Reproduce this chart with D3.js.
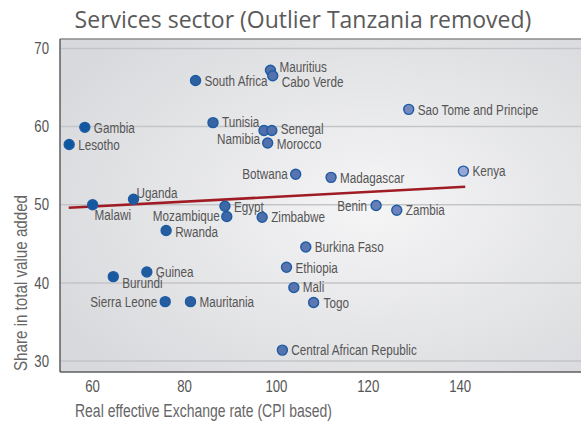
<!DOCTYPE html>
<html lang="en">
<head>
<meta charset="UTF-8" />
<title>Services sector</title>
<script src="https://cdnjs.cloudflare.com/ajax/libs/d3/7.8.5/d3.min.js"></script>
<style>
    body { margin: 0; background: #fff; }
    .title { font-family: 'Open Sans', sans-serif; font-size: 23px; fill: #5a5a5a; }
    .tick-label { font-family: 'Liberation Sans', sans-serif; font-size: 16.5px; fill: #555; }
    .axis-label { font-family: 'Liberation Sans', sans-serif; font-size: 18px; fill: #666; }
    .pt-label { font-family: 'Liberation Sans', sans-serif; font-size: 15px; fill: #555; }
</style>
</head>
<body>
<svg id="chart" width="581" height="427"></svg>
<script>
    // data
    const countries = ["South Africa", "Mauritius", "Cabo Verde", "Gambia", "Lesotho", "Tunisia",
        "Namibia", "Senegal", "Morocco", "Botwana", "Uganda", "Malawi", "Egypt", "Mozambique",
        "Zimbabwe", "Rwanda", "Guinea", "Burundi", "Sierra Leone", "Mauritania",
        "Central African Republic", "Ethiopia", "Mali", "Togo", "Burkina Faso", "Benin",
        "Zambia", "Madagascar", "Kenya", "Sao Tome and Principe"];
    const reer = [82.4, 98.7, 99.2, 58.3, 54.9, 86.2, 97.3, 99.0, 98.1, 104.2, 68.9, 60.0, 88.8, 89.2,
        96.9, 76.0, 71.8, 64.5, 75.8, 81.3, 101.3, 102.2, 103.8, 108.1, 106.4, 121.7,
        126.2, 111.9, 140.7, 128.8];
    const share = [65.9, 67.2, 66.5, 59.9, 57.7, 60.5, 59.5, 59.5, 57.9, 53.9, 50.7, 50.0, 49.8, 48.5,
        48.4, 46.7, 41.4, 40.8, 37.6, 37.6, 31.4, 42.0, 39.4, 37.5, 44.6, 49.9,
        49.3, 53.5, 54.3, 62.2];
    const trendX = [54.8, 141.1];
    const trendY = [49.6, 52.3];
    const xTicks = [60, 80, 100, 120, 140];
    const yTicks = [30, 40, 50, 60, 70];

    // label placement (layout only)
    const labelPos = {
        "Mauritius": { side: "r", dy: -4 },
        "Cabo Verde": { side: "r", dy: 6 },
        "Namibia": { side: "l", dx: 4, dy: 8 },
        "Senegal": { side: "r", dy: -2 },
        "Morocco": { side: "r", dy: 1 },
        "Botwana": { side: "l", dx: 8 },
        "Uganda": { side: "r", dx: 3, dy: -7 },
        "Malawi": { side: "r", dx: 2, dy: 10 },
        "Mozambique": { side: "l", dx: 7, dy: -1 },
        "Rwanda": { side: "r", dy: 1 },
        "Burundi": { side: "r", dx: 9, dy: 6 },
        "Sierra Leone": { side: "l", dx: 8 },
        "Benin": { side: "l", dx: 9 },
        "Tunisia": { side: "r", dy: -1 },
        "Mali": { side: "r", dx: 9, dy: -1 },
        "Togo": { side: "r", dx: 10 }
    };
    const narrow = 0.78; // condensed look of the label face

    const points = countries.map((c, i) => ({ name: c, x: reer[i], y: share[i] }));

    const svg = d3.select("#chart");
    const plotL = 60, plotR = 581, plotT = 39, plotB = 372;

    const x = d3.scaleLinear().domain([52.9, 166.3]).range([plotL, plotR]);
    const y = d3.scaleLinear().domain([28.6, 71.2]).range([plotB, plotT]);

    const defs = svg.append("defs");
    const grad = defs.append("radialGradient")
        .attr("id", "bg")
        .attr("cx", "0.6").attr("cy", "0.5").attr("r", "0.7");
    grad.append("stop").attr("offset", "0%").attr("stop-color", "#f5f5f6");
    grad.append("stop").attr("offset", "100%").attr("stop-color", "#d8d9dc");

    svg.append("rect")
        .attr("x", plotL).attr("y", plotT)
        .attr("width", plotR - plotL).attr("height", plotB - plotT)
        .attr("fill", "url(#bg)");

    // gridlines
    svg.append("g")
        .selectAll("line")
        .data(yTicks)
        .join("line")
        .attr("x1", plotL).attr("x2", plotR)
        .attr("y1", d => y(d)).attr("y2", d => y(d))
        .attr("stroke", "#c4c5c8")
        .attr("stroke-width", 1.5);

    // frame
    svg.append("line")
        .attr("x1", plotL).attr("x2", plotR).attr("y1", plotT).attr("y2", plotT)
        .attr("stroke", "#8a8a8a").attr("stroke-width", 1.5);
    svg.append("line")
        .attr("x1", plotL).attr("x2", plotR).attr("y1", plotB).attr("y2", plotB)
        .attr("stroke", "#5e5e5e").attr("stroke-width", 1.5);
    svg.append("line")
        .attr("x1", plotL).attr("x2", plotL).attr("y1", plotT).attr("y2", plotB)
        .attr("stroke", "#5e5e5e").attr("stroke-width", 1.5);

    // tick labels
    svg.append("g")
        .selectAll("text")
        .data(yTicks)
        .join("text")
        .attr("class", "tick-label")
        .attr("transform", d => `translate(${plotL - 11},${y(d)}) scale(0.8,1)`)
        .attr("dy", "0.35em")
        .attr("text-anchor", "end")
        .text(d => d);

    svg.append("g")
        .selectAll("text")
        .data(xTicks)
        .join("text")
        .attr("class", "tick-label")
        .attr("transform", d => `translate(${x(d)},392) scale(0.8,1)`)
        .attr("text-anchor", "middle")
        .text(d => d);

    // trend line
    svg.append("line")
        .attr("x1", x(trendX[0])).attr("y1", y(trendY[0]))
        .attr("x2", x(trendX[1])).attr("y2", y(trendY[1]))
        .attr("stroke", "#a01c24")
        .attr("stroke-width", 2.5);

    // points coloured darker on the left, lighter to the right
    const color = d3.scaleLinear()
        .domain([55, 80, 100, 125, 141])
        .range(["#0f56a0", "#2a5e9f", "#5672ad", "#6a80b9", "#9aa7d6"]);

    svg.append("g")
        .selectAll("circle")
        .data(points)
        .join("circle")
        .attr("cx", d => x(d.x))
        .attr("cy", d => y(d.y))
        .attr("r", 5)
        .attr("fill", d => color(d.x))
        .attr("stroke", "#1d5ca3")
        .attr("stroke-width", 1.4);

    svg.append("g")
        .selectAll("text")
        .data(points)
        .join("text")
        .attr("class", "pt-label")
        .each(function (d) {
            const p = labelPos[d.name] || { side: "r" };
            const isLeft = p.side === "l";
            const dx = p.dx !== undefined ? p.dx : 9;
            const tx = x(d.x) + (isLeft ? -dx : dx);
            const ty = y(d.y) + (p.dy || 0);
            d3.select(this)
                .attr("transform", `translate(${tx},${ty}) scale(${narrow},1)`)
                .attr("dy", "0.35em")
                .attr("text-anchor", isLeft ? "end" : "start");
        })
        .text(d => d.name);

    // titles
    svg.append("text")
        .attr("class", "title")
        .attr("x", 303).attr("y", 28)
        .attr("text-anchor", "middle")
        .text("Services sector (Outlier Tanzania removed)");

    svg.append("text")
        .attr("class", "axis-label")
        .attr("x", 75).attr("y", 417)
        .attr("textLength", 257)
        .attr("lengthAdjust", "spacingAndGlyphs")
        .text("Real effective Exchange rate (CPI based)");

    svg.append("text")
        .attr("class", "axis-label")
        .attr("transform", "translate(26.5, 371) rotate(-90)")
        .attr("textLength", 176)
        .attr("lengthAdjust", "spacingAndGlyphs")
        .text("Share in total value added");
</script>
</body>
</html>
